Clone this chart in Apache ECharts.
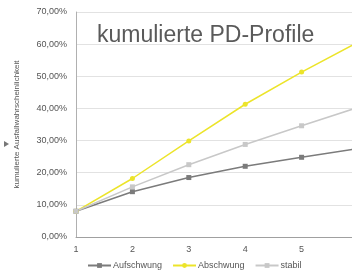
<!DOCTYPE html>
<html>
<head>
<meta charset="utf-8">
<script src="https://cdn.jsdelivr.net/npm/echarts@6/dist/echarts.min.js"></script>
<style>
  html, body { margin: 0; padding: 0; background: #fff; }
  #chart { width: 352px; height: 276px; }
</style>
</head>
<body>
<div id="chart"></div>
<script>
var years = ['1', '2', '3', '4', '5', '6'];
var aufschwung = [8.0, 14.1, 18.5, 22.0, 24.8, 27.5];
var abschwung = [8.0, 18.2, 29.9, 41.3, 51.3, 60.6];
var stabil = [8.0, 15.6, 22.5, 28.8, 34.6, 40.3];
var yTicks = [0, 10, 20, 30, 40, 50, 60, 70];

var chart = echarts.init(document.getElementById('chart'));

function fmt(v) {
    return v.toFixed(2).replace('.', ',') + '%';
}

var option = {
    animation: false,
    textStyle: { fontFamily: 'Liberation Sans, Arial, sans-serif' },
    title: {
        text: 'kumulierte PD-Profile',
        left: 92,
        top: 19,
        textStyle: { fontSize: 23, fontWeight: 'normal', color: '#5a5a5a' }
    },
    legend: {
        bottom: 1,
        left: 82,
        itemWidth: 23,
        itemHeight: 6,
        itemGap: 10,
        textStyle: { fontSize: 9, color: '#555', padding: [0, 0, 0, -3] },
        data: ['Aufschwung', 'Abschwung', 'stabil']
    },
    grid: { left: 76, width: 282, top: 12, bottom: 39, outerBoundsMode: 'none' },
    xAxis: {
        type: 'category',
        boundaryGap: false,
        data: years,
        axisLine: { lineStyle: { color: '#a0a0a0' } },
        axisTick: { show: false },
        axisLabel: {
            color: '#555', fontSize: 9, margin: 8,
            formatter: function (v, i) { return i < years.length - 1 ? v : ''; }
        }
    },
    yAxis: {
        type: 'value',
        min: yTicks[0],
        max: yTicks[yTicks.length - 1],
        interval: 10,
        name: 'kumulierte Ausfallwahrscheinlichkeit',
        nameLocation: 'middle',
        nameGap: 55,
        nameTextStyle: { fontSize: 8, color: '#555' },
        axisLine: { show: true, lineStyle: { color: '#b0b0b0' } },
        axisTick: { show: false },
        axisLabel: { color: '#555', fontSize: 9, margin: 9, formatter: fmt },
        splitLine: { lineStyle: { color: '#e2e2e2' } }
    },
    graphic: [{
        type: 'polygon',
        shape: { points: [[4, 141], [9, 144], [4, 147]] },
        style: { fill: '#777' }
    }],
    series: [
        {
            name: 'Aufschwung', type: 'line', data: aufschwung,
            symbol: 'rect', symbolSize: 5,
            lineStyle: { color: '#7b7b7b', width: 1.5 },
            itemStyle: { color: '#7b7b7b' }
        },
        {
            name: 'Abschwung', type: 'line', data: abschwung,
            symbol: 'circle', symbolSize: 5,
            lineStyle: { color: '#ece42a', width: 1.5 },
            itemStyle: { color: '#ece42a' }
        },
        {
            name: 'stabil', type: 'line', data: stabil,
            symbol: 'rect', symbolSize: 5,
            lineStyle: { color: '#c8c8c8', width: 1.5 },
            itemStyle: { color: '#c8c8c8' }
        }
    ]
};

chart.setOption(option);
window.addEventListener('resize', function () {
    chart.resize();
});
</script>
</body>
</html>
